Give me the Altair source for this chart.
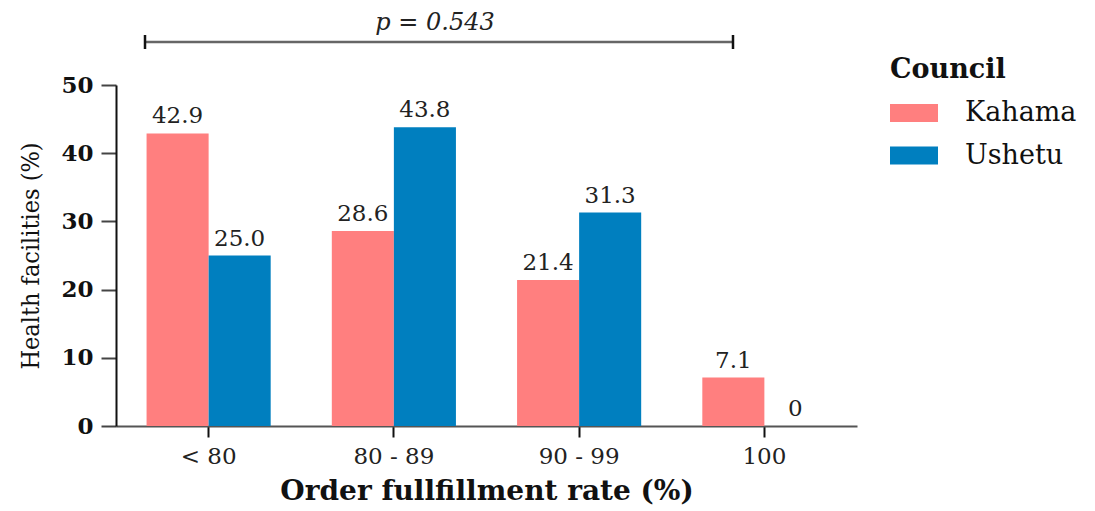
import altair as alt
import pandas as pd

categories = ["< 80", "80 - 89", "90 - 99", "100"]
councils = ["Kahama", "Ushetu"]
kahama = [42.9, 28.6, 21.4, 7.1]
ushetu = [25.0, 43.8, 31.3, 0]
colors = ["#FF7F7F", "#007FBF"]
p_text = "p = 0.543"

rows = []
for c, k, u in zip(categories, kahama, ushetu):
    rows.append({"cat": c, "council": "Kahama", "value": k, "label": f"{k:.1f}" if k else "0"})
    rows.append({"cat": c, "council": "Ushetu", "value": u, "label": f"{u:.1f}" if u else "0"})
df = pd.DataFrame(rows)

SERIF = "DejaVu Serif"

x_enc = alt.X(
    "cat:N", sort=categories,
    scale=alt.Scale(paddingInner=0.33, paddingOuter=0.165),
    axis=alt.Axis(
        title="Order fullfillment rate (%)", titleFont=SERIF, titleFontWeight="bold",
        titleFontSize=28, titleColor="#111", labelFont=SERIF, labelFontSize=23,
        labelColor="#222", labelAngle=0, tickSize=11, tickColor="#111", tickWidth=2,
        domainColor="#555", domainWidth=2, labelPadding=8, titlePadding=9,
    ),
)
xo_enc = alt.XOffset("council:N", sort=councils, scale=alt.Scale(paddingInner=0, paddingOuter=0))
y_enc = alt.Y(
    "value:Q", scale=alt.Scale(domain=[0, 50], nice=False),
    axis=alt.Axis(
        values=[0, 10, 20, 30, 40, 50], title="Health facilities (%)",
        titleFont="DejaVu Serif Condensed, Liberation Serif", titleFontWeight="normal",
        titleFontSize=25, titleColor="#111", labelFont=SERIF, labelFontWeight="bold",
        labelFontSize=23, labelColor="#111", tickSize=15, tickColor="#444", tickWidth=2,
        domainColor="#111", domainWidth=2, grid=False, labelPadding=8, titlePadding=17,
    ),
)
color_enc = alt.Color(
    "council:N", sort=councils,
    scale=alt.Scale(domain=councils, range=colors),
    legend=alt.Legend(
        title="Council", orient="none", legendX=774, legendY=-28,
        titleFont=SERIF, titleFontWeight="bold", titleFontSize=27, titleColor="#111",
        labelFont=SERIF, labelFontSize=27, labelColor="#111",
        symbolType="M-1,-0.375H1V0.375H-1Z", symbolSize=2304, symbolStrokeWidth=0,
        symbolOpacity=1, labelOffset=27, clipHeight=40, rowPadding=2.5, titlePadding=9,
    ),
)

bars = alt.Chart(df).mark_bar(opacity=1).encode(x=x_enc, xOffset=xo_enc, y=y_enc, color=color_enc)
labels = alt.Chart(df).mark_text(
    baseline="alphabetic", dy=-10, font=SERIF, fontSize=23, color="#222"
).encode(x=x_enc, xOffset=xo_enc, y=y_enc, text="label:N")

ann_df = pd.DataFrame({"t": [p_text]})
line = alt.Chart(ann_df).mark_rule(color="#666", strokeWidth=2.5).encode(
    x=alt.value(29), x2=alt.value(617), y=alt.value(-43))
cap1 = alt.Chart(ann_df).mark_rule(color="#111", strokeWidth=2.5).encode(
    x=alt.value(29), y=alt.value(-50), y2=alt.value(-36))
cap2 = alt.Chart(ann_df).mark_rule(color="#111", strokeWidth=2.5).encode(
    x=alt.value(617), y=alt.value(-50), y2=alt.value(-36))
ptext = alt.Chart(ann_df).mark_text(
    font=SERIF, fontStyle="italic", fontSize=24, color="#222", baseline="alphabetic", align="center"
).encode(x=alt.value(319), y=alt.value(-55), text="t:N")

chart = alt.layer(bars, labels, line, cap1, cap2, ptext).properties(
    width=741, height=341,
    autosize=alt.AutoSizeParams(type="none"),
    padding={"left": 108, "top": 77, "right": 230, "bottom": 95},
).configure_view(stroke=None)

chart.save("out.html", embed_options={"renderer": "svg", "actions": False})
